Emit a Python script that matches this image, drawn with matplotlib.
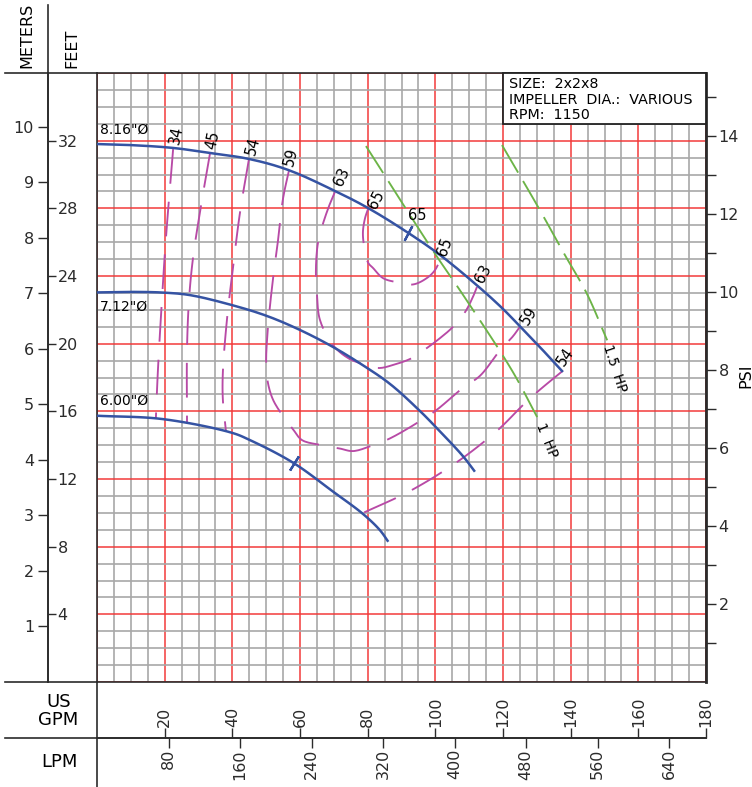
import numpy as np
import matplotlib
matplotlib.use("Agg")
import matplotlib.pyplot as plt
from matplotlib.lines import Line2D
from matplotlib.patches import Rectangle
from matplotlib.ticker import MultipleLocator, FixedLocator

plt.rcParams["font.family"] = ["DejaVu Sans"]
plt.rcParams["lines.scale_dashes"] = False
plt.rcParams["axes.edgecolor"] = "#2b2b2b"
plt.rcParams["axes.linewidth"] = 1.2
plt.rcParams["xtick.color"] = "#2b2b2b"
plt.rcParams["ytick.color"] = "#2b2b2b"

# ---------------- pump data (flow in US GPM, head in feet) ----------------
gpm_816 = [0, 9.8, 22.5, 33.4, 44.9, 56.5, 70.4, 80.1, 91.6, 101.4, 112.3, 119.7, 125.0, 130.9, 137.7]
ft_816 = [31.80, 31.74, 31.57, 31.27, 30.92, 30.27, 29.02, 28.02, 26.60, 25.24, 23.45, 22.11, 21.03, 19.80, 18.33]

gpm_712 = [0, 10.0, 19.5, 27.5, 39.9, 50.2, 60.0, 69.8, 77.7, 86.6, 95.3, 99.9, 108.3, 111.7]
ft_712 = [23.03, 23.06, 23.02, 22.87, 22.28, 21.64, 20.81, 19.80, 18.84, 17.62, 16.05, 15.12, 13.32, 12.43]

gpm_600 = [0, 19.5, 39.9, 45.2, 57.9, 69.8, 78.7, 83.6, 86.1]
ft_600 = [15.74, 15.54, 14.73, 14.30, 12.97, 11.25, 9.92, 8.98, 8.29]

impeller_labels = ['8.16"Ø', '7.12"Ø', '6.00"Ø']

# iso-efficiency contours (%)
eff34_gpm = [22.5, 20.4, 19.2, 18.0, 17.4]
eff34_ft = [31.5, 26.3, 22.6, 18.4, 15.6]

eff45_gpm = [33.4, 30.7, 28.4, 27.2, 26.6, 26.6]
eff45_ft = [31.25, 28.1, 25.1, 22.6, 19.6, 15.3]

eff54a_gpm = [44.9, 42.3, 40.2, 38.4, 37.2, 37.2, 38.1]
eff54a_ft = [30.9, 27.8, 24.5, 21.4, 18.3, 16.7, 14.85]
eff54b_gpm = [137.7, 130.1, 125.9, 118.5, 106.4, 92.5, 78.6]
eff54b_ft = [18.4, 17.14, 16.37, 14.9, 13.0, 11.29, 9.99]

eff59_gpm = [56.7, 55.0, 53.5, 52.0, 50.5, 50.0, 50.5, 52.0, 54.7, 57.9, 60.6, 66.5, 71.8,
             75.7, 81.6, 86.6, 96.1, 100.5, 108.2, 113.2, 119.1, 123.0, 125.0]
eff59_ft = [30.2, 28.6, 26.1, 23.8, 20.9, 18.9, 17.7, 16.7, 15.8, 14.95, 14.3, 14.0, 13.8,
            13.65, 14.0, 14.4, 15.5, 16.1, 17.4, 18.1, 19.6, 20.45, 21.0]

eff63_gpm = [70.3, 68.9, 66.8, 65.3, 64.7, 65.0, 65.9, 69.8, 74.2, 77.7, 83.1, 87.5, 93.1,
             97.5, 101.4, 105.2, 108.8, 111.1, 112.3]
eff63_ft = [28.96, 28.3, 27.1, 25.95, 24.35, 23.0, 21.4, 19.9, 19.15, 18.85, 18.56, 18.74, 19.15,
            19.74, 20.33, 20.99, 21.87, 22.76, 23.35]

eff65_gpm = [80.1, 79.2, 78.6, 78.9, 80.1, 81.6, 84.5, 88.4, 93.4, 97.5, 99.9, 101.7]
eff65_ft = [27.96, 27.4, 26.6, 25.83, 24.8, 24.47, 23.88, 23.64, 23.5, 23.88, 24.35, 25.1]

# efficiency labels: text, flow, head, rotation
eff_text = ["34", "45", "54", "59", "63", "65", "65", "65", "63", "59", "54"]
eff_text_gpm = [23.4, 34.3, 46.1, 57.3, 72.4, 82.5, 94.6, 102.9, 114.1, 127.7, 138.6]
eff_text_ft = [32.33, 32.03, 31.68, 31.03, 29.85, 28.49, 27.6, 25.71, 24.11, 21.63, 19.2]
eff_text_rot = [78, 78, 75, 75, 65, 62, 0, 70, 62, 58, 55]

# best efficiency point markers on impeller curves
bep_gpm = [58.2, 92.0]
bep_ft = [12.93, 26.55]
bep_angle = [-32, -28]

# motor power limit lines
hp1_gpm = [79.5, 99.3, 108.8, 122.7, 130.1]
hp1_ft = [31.68, 25.5, 22.7, 18.4, 15.66]
hp15_gpm = [119.7, 130.4, 138.3, 144.8, 150.8]
hp15_ft = [31.74, 28.07, 25.24, 22.95, 20.2]

gpm_ticks = [20, 40, 60, 80, 100, 120, 140, 160, 180]
lpm_ticks = [80, 160, 240, 320, 400, 480, 560, 640]
ft_ticks = [4, 8, 12, 16, 20, 24, 28, 32]
m_ticks = [1, 2, 3, 4, 5, 6, 7, 8, 9, 10]
psi_major = [2, 4, 6, 8, 10, 12, 14]
psi_minor = [1, 3, 5, 7, 9, 11, 13, 15]


def smooth_path(xs, ys, sx=3.383, sy=16.92, n=12):
    """Centripetal Catmull-Rom path through the given points (for drawing only)."""
    p = np.column_stack([np.asarray(xs, float) * sx, np.asarray(ys, float) * sy])
    if len(p) < 3:
        return xs, ys
    p = np.vstack([2 * p[0] - p[1], p, 2 * p[-1] - p[-2]])
    out = [p[1]]
    for i in range(1, len(p) - 2):
        p0, p1, p2, p3 = p[i - 1], p[i], p[i + 1], p[i + 2]
        t0 = 0.0
        t1 = t0 + np.linalg.norm(p1 - p0) ** 0.5 + 1e-9
        t2 = t1 + np.linalg.norm(p2 - p1) ** 0.5 + 1e-9
        t3 = t2 + np.linalg.norm(p3 - p2) ** 0.5 + 1e-9
        for t in np.linspace(t1, t2, n)[1:]:
            a1 = (t1 - t) / (t1 - t0) * p0 + (t - t0) / (t1 - t0) * p1
            a2 = (t2 - t) / (t2 - t1) * p1 + (t - t1) / (t2 - t1) * p2
            a3 = (t3 - t) / (t3 - t2) * p2 + (t - t2) / (t3 - t2) * p3
            b1 = (t2 - t) / (t2 - t0) * a1 + (t - t0) / (t2 - t0) * a2
            b2 = (t3 - t) / (t3 - t1) * a2 + (t - t1) / (t3 - t1) * a3
            out.append((t2 - t) / (t2 - t1) * b1 + (t - t1) / (t2 - t1) * b2)
    out = np.array(out)
    return out[:, 0] / sx, out[:, 1] / sy


# ---------------- figure ----------------
W, H = 752, 787
fig = plt.figure(figsize=(W / 100, H / 100), dpi=100)


def fx(x):
    return x / W


def fy(y):
    return 1 - y / H


PL, PR, PT, PB = 97, 706, 73, 682
ax = fig.add_axes([fx(PL), fy(PB), (PR - PL) / W, (PB - PT) / H])
ax.set_xlim(0, 180)
ax.set_ylim(0, 36)

ax.xaxis.set_major_locator(MultipleLocator(20))
ax.xaxis.set_minor_locator(MultipleLocator(5))
ax.yaxis.set_major_locator(MultipleLocator(4))
ax.yaxis.set_minor_locator(MultipleLocator(1))
ax.grid(which="minor", color="#a8a8a8", lw=1.2)
ax.grid(which="major", color="#f23a3a", lw=1.1)
ax.set_axisbelow(True)
ax.tick_params(which="both", length=0, labelbottom=False, labelleft=False)
ax.spines["right"].set_linewidth(2.0)

BLUE = "#3553a3"
MAG = "#b84aa6"
GREEN = "#6cb447"

for g, h in [(gpm_816, ft_816), (gpm_712, ft_712), (gpm_600, ft_600)]:
    sg, sh = smooth_path(g, h)
    ax.plot(sg, sh, color=BLUE, lw=1.8, zorder=4, solid_capstyle="butt")

for g, h, a in zip(bep_gpm, bep_ft, bep_angle):
    ax.plot([g], [h], marker=(2, 2, a), markersize=12, mew=1.6, color=BLUE, zorder=4)

eff_dash = (0, (25, 13))
for g, h in [(eff34_gpm, eff34_ft), (eff45_gpm, eff45_ft), (eff54a_gpm, eff54a_ft),
             (eff54b_gpm, eff54b_ft), (eff59_gpm, eff59_ft), (eff63_gpm, eff63_ft),
             (eff65_gpm, eff65_ft)]:
    sg, sh = smooth_path(g, h)
    ax.plot(sg, sh, color=MAG, lw=1.35, ls=eff_dash, zorder=3)

hp_dash = (0, (23, 7))
for g, h in [(hp1_gpm, hp1_ft), (hp15_gpm, hp15_ft)]:
    sg, sh = smooth_path(g, h)
    ax.plot(sg, sh, color=GREEN, lw=1.35, ls=hp_dash, zorder=3)

ax.text(0.9, 32.25, impeller_labels[0], fontsize=10, ha="left", va="bottom", zorder=5)
ax.text(0.9, 22.6, impeller_labels[1], fontsize=10, ha="left", va="top", zorder=5)
ax.text(0.9, 16.2, impeller_labels[2], fontsize=10, ha="left", va="bottom", zorder=5)

for t, g, h, r in zip(eff_text, eff_text_gpm, eff_text_ft, eff_text_rot):
    ax.text(g, h, t, fontsize=10.5, rotation=r, ha="center", va="center", zorder=5,
            rotation_mode="anchor")

ax.text(133.0, 14.3, "1  HP", fontsize=10, rotation=-68, ha="center", va="center",
        rotation_mode="anchor", zorder=5)
ax.text(152.8, 18.56, "1.5  HP", fontsize=10, rotation=-72, ha="center", va="center",
        rotation_mode="anchor", zorder=5)

# title block
ax.add_patch(Rectangle((120, 33), 60, 3, facecolor="white", edgecolor="#222222",
                       lw=1.3, zorder=6, clip_on=False))
for yy, s in [(35.33, "SIZE:  2x2x8"), (34.42, "IMPELLER  DIA.:  VARIOUS"), (33.52, "RPM:  1150")]:
    ax.text(121.7, yy, s, fontsize=10.3, ha="left", va="center", zorder=7)

# ---------------- axes scales ----------------
left_loc = (48 - PL) / (PR - PL)
tick_font = 11.5

feet = ax.secondary_yaxis(left_loc, functions=(lambda v: v, lambda v: v))
feet.set_alignment("right")
feet.yaxis.set_major_locator(FixedLocator(ft_ticks))
feet.tick_params(length=6, width=1.0, pad=1, labelsize=tick_font, direction="out")

meters = ax.secondary_yaxis(left_loc, functions=(lambda f: f * 0.3048, lambda m: m / 0.3048))
meters.yaxis.set_major_locator(FixedLocator(m_ticks))
meters.tick_params(length=7, width=1.0, pad=3, labelsize=tick_font, direction="out")

psi = ax.secondary_yaxis("right", functions=(lambda f: f * 0.4335, lambda p: p / 0.4335))
psi.yaxis.set_major_locator(FixedLocator(psi_major))
psi.yaxis.set_minor_locator(FixedLocator(psi_minor))
psi.tick_params(which="both", length=7, width=1.0, pad=2, labelsize=tick_font)

bot_loc = -(738 - PB) / (PB - PT)
gpm = ax.secondary_xaxis(bot_loc, functions=(lambda v: v, lambda v: v))
gpm.set_alignment("top")
gpm.xaxis.set_major_locator(FixedLocator(gpm_ticks))
gpm.tick_params(length=7, width=1.0, pad=1, labelsize=tick_font, labelrotation=90)

lpm = ax.secondary_xaxis(bot_loc, functions=(lambda g: g * 3.7854, lambda l: l / 3.7854))
lpm.set_alignment("bottom")
lpm.xaxis.set_major_locator(FixedLocator(lpm_ticks))
lpm.tick_params(length=7, width=1.0, pad=1, labelsize=tick_font, labelrotation=90)

# ---------------- table frame ----------------
frame = dict(color="#2b2b2b", lw=1.2, transform=fig.transFigure)
fig.add_artist(Line2D([fx(5), fx(PL)], [fy(PT), fy(PT)], **frame))
fig.add_artist(Line2D([fx(48), fx(48)], [fy(5), fy(PT)], **frame))
fig.add_artist(Line2D([fx(5), fx(PL)], [fy(PB), fy(PB)], **frame))
fig.add_artist(Line2D([fx(5), fx(PL)], [fy(738), fy(738)], **frame))
fig.add_artist(Line2D([fx(PL), fx(PL)], [fy(PB), fy(787)], **frame))

fig.text(fx(27), fy(68), "METERS", rotation=90, ha="center", va="bottom", fontsize=11.5)
fig.text(fx(72), fy(68), "FEET", rotation=90, ha="center", va="bottom", fontsize=11.5)
fig.text(fx(59), fy(702), "US", ha="center", va="center", fontsize=13)
fig.text(fx(58), fy(720), "GPM", ha="center", va="center", fontsize=13)
fig.text(fx(59), fy(762), "LPM", ha="center", va="center", fontsize=13)
fig.text(fx(746), fy(376), "PSI", rotation=90, ha="center", va="center", fontsize=11.5)

fig.savefig("out.png", dpi=100)
